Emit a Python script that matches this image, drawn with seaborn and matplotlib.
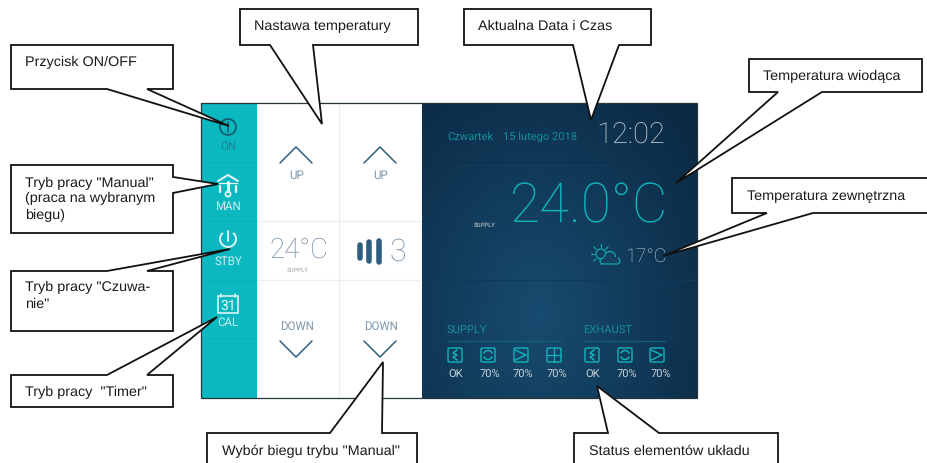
import numpy as np
import matplotlib
matplotlib.use("Agg")
import matplotlib.pyplot as plt
from matplotlib.patches import Polygon, Rectangle, Circle, FancyBboxPatch, Arc
import seaborn as sns

sns.set_style("white")
plt.rcParams["text.hinting"] = "no_hinting"
plt.rcParams["text.hinting_factor"] = 8

# ---- content ----
mode_labels = ["ON", "MAN", "STBY", "CAL"]
setpoint_text = "24°C"
fan_speed_text = "3"
day_text = "Czwartek"
date_text = "15 lutego 2018"
clock_text = "12:02"
lead_temp_text = "24.0°C"
outside_temp_text = "17°C"
source_text = "SUPPLY"
group_labels = ["SUPPLY", "EXHAUST"]
supply_status = ["OK", "70%", "70%", "70%"]
exhaust_status = ["OK", "70%", "70%"]
supply_glyphs = ["filter", "wheel", "fan", "cross"]
exhaust_glyphs = ["filter", "wheel", "fan"]
callout_texts = [
    ["Przycisk ON/OFF"],
    ['Tryb pracy "Manual"', "(praca na wybranym", "biegu)"],
    ['Tryb pracy "Czuwa-', 'nie"'],
    ['Tryb pracy  "Timer"'],
    ["Nastawa temperatury"],
    ["Aktualna Data i Czas"],
    ["Temperatura wiodąca"],
    ["Temperatura zewnętrzna"],
    ['Wybór biegu trybu "Manual"'],
    ["Status elementów układu"],
]

TEAL = "#0cb8c0"
CYAN = "#12b3ba"
DIM = "#158c9c"
SLATE = "#2f5f80"
GREY = "#6f8aa2"
SOFT = "#7f98ad"
PALE = "#c7d2d9"

fig = plt.figure(figsize=(9.27, 4.64), dpi=100, facecolor="white")
ax = fig.add_axes([0, 0, 1, 1])
ax.set_xlim(0, 927)
ax.set_ylim(464, 0)
ax.axis("off")

# ---- panel ----
yy, xx = np.mgrid[0:1:120j, 0:1:160j]
glow = np.clip(1 - np.hypot((xx - 0.42) / 0.75, (yy - 0.72) / 0.95), 0, 1)
cmap = sns.blend_palette(["#0b2a44", "#174b6f"], as_cmap=True)
ax.imshow(glow, extent=(422, 697, 399, 104), cmap=cmap, aspect="auto", zorder=1, interpolation="bilinear")
ax.set_xlim(0, 927)
ax.set_ylim(464, 0)
ax.add_patch(Rectangle((201, 104), 56, 295, fc=TEAL, ec="none", zorder=1))
ax.add_patch(Rectangle((201, 104), 496, 295, fc="none", ec="#26343c", lw=0.9, zorder=4))

for y in [163, 222, 281, 339]:
    ax.plot([202, 256], [y, y], color="#0ab0b8", lw=0.7, zorder=2)
ax.plot([339, 339], [105, 398], color="#eeeeee", lw=0.9, zorder=2)
for y in [222, 281]:
    ax.plot([258, 421], [y, y], color="#eeeeee", lw=0.9, zorder=2)
ax.plot([423, 696], [163, 163], color="#0c2f4b", lw=0.8, zorder=2)
ax.plot([423, 696], [281, 281], color="#10395a", lw=0.8, zorder=2)

def label(x, y, s, size, color, ha="center", weight="normal", family="Roboto", z=3):
    return ax.text(x, y, s, fontsize=size, color=color, ha=ha, va="center",
                   family=family, fontweight=weight, zorder=z)

# ---- side buttons ----
mode_colors = ["#1b8494", "#c5eef0", "#c5eef0", "#c5eef0"]
for y, s, c in zip([147, 207, 262, 323], mode_labels, mode_colors):
    label(228, y, s, 8.3, c)
ax.add_patch(Circle((228, 128), 8, fc="none", ec="#17566f", lw=1.2, zorder=3))
ax.plot([228, 228], [123, 133], color="#17566f", lw=1.2, zorder=3)
W = "#e9f9fa"
ax.plot([218, 228, 238], [182, 176, 182], color=W, lw=1.4, zorder=3)
ax.plot([219, 237], [184, 184], color=W, lw=0.9, zorder=3)
ax.plot([220, 220], [187, 193], color=W, lw=1.6, zorder=3)
ax.plot([236, 236], [187, 193], color=W, lw=1.6, zorder=3)
ax.plot([228, 228], [183, 192], color=W, lw=2.2, zorder=3)
ax.add_patch(Circle((228, 195), 2.6, fc="none", ec=W, lw=1.2, zorder=3))
ax.add_patch(Arc((228, 240), 16, 16, theta1=-50, theta2=230, ec=W, lw=1.3, zorder=3))
ax.plot([228, 228], [232, 242], color=W, lw=1.3, zorder=3)
ax.add_patch(Rectangle((218, 297), 20, 17, fc="none", ec=W, lw=1.1, zorder=3))
ax.plot([221, 221], [295, 298], color=W, lw=1.1, zorder=3)
ax.plot([235, 235], [295, 298], color=W, lw=1.1, zorder=3)
label(228, 306, "31", 10, W)

# ---- setpoint columns ----
for xc in [296, 380]:
    ax.plot([xc - 16, xc, xc + 16], [164, 148, 164], color=SLATE, lw=1.1, zorder=3)
    label(xc + 1, 176, "UP", 8.3, SOFT)
    label(xc + 1, 327, "DOWN", 8.3, SOFT)
    ax.plot([xc - 16, xc, xc + 16], [342, 358, 342], color=SLATE, lw=1.1, zorder=3)
label(299, 250, setpoint_text, 20, GREY, weight="light")
label(298, 270, source_text, 4.2, "#b9bfc4", weight="bold")
for xb, y0, y1 in [(360, 246, 259), (369, 243, 262), (379, 242, 263)]:
    ax.plot([xb, xb], [y0, y1], color=SLATE, lw=4.0, solid_capstyle="round", zorder=3)
label(398, 252, fan_speed_text, 22, GREY, weight="light")

# ---- display ----
label(447, 137, day_text, 8, DIM, ha="left")
label(503, 137, date_text, 8, DIM, ha="left")
label(631, 136, clock_text, 21, "#c9d4db", weight="light")
label(589.5, 207, lead_temp_text, 39.5, CYAN, weight="light")
label(474, 225, source_text, 4.2, "#9aa6ae", ha="left", weight="bold")
label(646, 257, outside_temp_text, 14, PALE, weight="light")

# weather glyph
sun = (601, 255)
ax.add_patch(Circle(sun, 5, fc="none", ec=CYAN, lw=0.8, zorder=3))
for a in np.deg2rad(np.arange(0, 360, 45)):
    ax.plot([sun[0] + 7 * np.cos(a), sun[0] + 10 * np.cos(a)],
            [sun[1] + 7 * np.sin(a), sun[1] + 10 * np.sin(a)], color=CYAN, lw=0.8, zorder=3)
ax.add_patch(FancyBboxPatch((600, 259), 20, 6, boxstyle="round,pad=0,rounding_size=3",
                            fc="#12415f", ec=CYAN, lw=0.8, zorder=3))
ax.add_patch(Circle((610, 258), 5.5, fc="#12415f", ec=CYAN, lw=0.8, zorder=3))
ax.add_patch(Rectangle((604, 258), 14, 6.4, fc="#12415f", ec="none", zorder=3))

# ---- status row ----
label(447, 331, group_labels[0], 8, DIM, ha="left")
label(583, 331, group_labels[1], 8, DIM, ha="left")
ax.plot([448, 561], [342, 342], color="#125f78", lw=0.9, zorder=3)
ax.plot([584, 665], [342, 342], color="#125f78", lw=0.9, zorder=3)

def status_icon(xc, kind):
    yc = 356
    ax.add_patch(FancyBboxPatch((xc - 7, yc - 7), 14, 14, boxstyle="round,pad=0,rounding_size=1.5",
                                fc="none", ec=CYAN, lw=1.0, zorder=3))
    if kind == "filter":
        ax.plot([xc + 2, xc - 2, xc + 2, xc - 2, xc + 2], [yc - 5, yc - 2, yc, yc + 2, yc + 5],
                color=CYAN, lw=1.1, zorder=3)
    elif kind == "wheel":
        ax.add_patch(Arc((xc, yc), 9, 9, theta1=20, theta2=160, ec=CYAN, lw=1.1, zorder=3))
        ax.add_patch(Arc((xc, yc), 9, 9, theta1=200, theta2=340, ec=CYAN, lw=1.1, zorder=3))
    elif kind == "fan":
        ax.plot([xc - 6, xc + 5, xc - 6], [yc - 5, yc, yc + 5], color=CYAN, lw=1.0, zorder=3)
    else:
        ax.plot([xc, xc], [yc - 7, yc + 7], color=CYAN, lw=0.9, zorder=3)
        ax.plot([xc - 7, xc + 7], [yc, yc], color=CYAN, lw=0.9, zorder=3)

for xi, xt, kind, s in zip([455, 488, 521, 554], [456, 490, 523, 557], supply_glyphs, supply_status):
    status_icon(xi, kind)
    label(xt, 375, s, 8, PALE)
for xi, xt, kind, s in zip([592, 625, 657], [593, 627, 661], exhaust_glyphs, exhaust_status):
    status_icon(xi, kind)
    label(xt, 375, s, 8, PALE)

# ---- callouts ----
def callout(outline, lines, tx, tys):
    ax.add_patch(Polygon(outline, closed=True, fc="white", ec="#111111", lw=1.3, joinstyle="miter",
                         clip_on=True, zorder=6))
    for s, ty in zip(lines, tys):
        ax.text(tx, ty + 0.5, s, fontsize=10.4, color="#1a1a1a", ha="left", va="center",
                family="Liberation Sans", zorder=7)

outlines = [
    [(11, 46), (173, 46), (173, 90), (147, 90), (229, 127), (107, 90), (11, 90)],
    [(11, 166), (173, 166), (173, 178), (218, 185), (173, 194), (173, 234), (11, 234)],
    [(11, 272), (107, 272), (230, 250), (147, 272), (173, 272), (173, 332), (11, 332)],
    [(11, 376), (107, 376), (217, 318), (147, 376), (173, 376), (173, 408), (11, 408)],
    [(240, 10), (418, 10), (418, 46), (313, 46), (322, 125), (270, 46), (240, 46)],
    [(464, 10), (651, 10), (651, 46), (619, 46), (591, 121), (573, 46), (464, 46)],
    [(749, 60), (922, 60), (922, 93), (822, 93), (676, 184), (778, 93), (749, 93)],
    [(732, 179), (930, 179), (930, 214), (813, 214), (663, 257), (767, 214), (732, 214)],
    [(207, 434), (330, 434), (383, 363), (382, 434), (417, 434), (417, 470), (207, 470)],
    [(574, 434), (608, 434), (597, 387), (659, 434), (778, 434), (778, 470), (574, 470)],
]
text_x = [25, 25, 25, 25, 254, 478, 763, 747, 222, 589]
text_y = [[62], [183, 198, 215], [287, 304], [392], [26], [26], [76], [196], [451], [451]]
for o, t, x, y in zip(outlines, callout_texts, text_x, text_y):
    callout(o, t, x, y)

fig.savefig("out.png", dpi=100)
